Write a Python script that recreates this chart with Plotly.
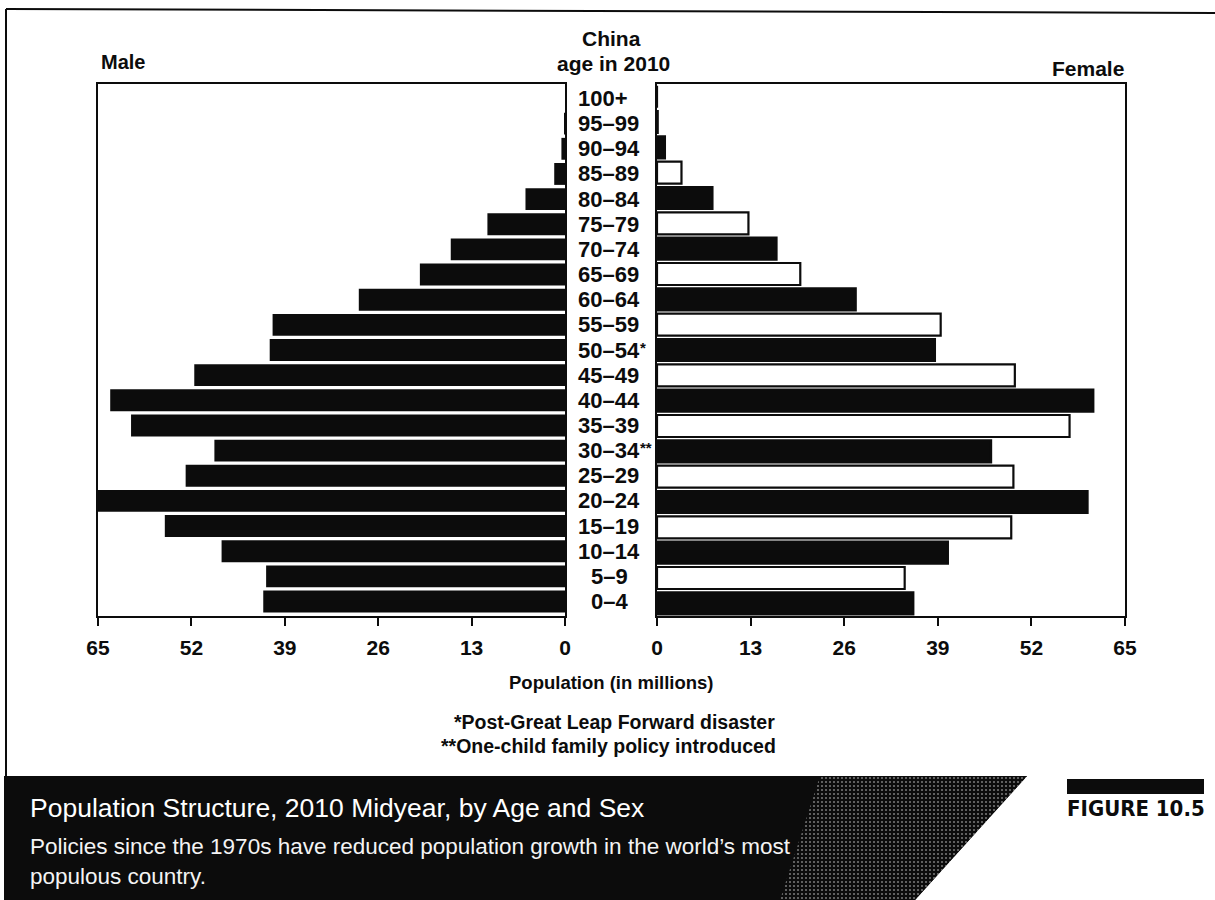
import plotly.graph_objects as go

# ---------------- data ----------------
age_groups = ["0–4", "5–9", "10–14", "15–19", "20–24", "25–29", "30–34**", "35–39",
              "40–44", "45–49", "50–54*", "55–59", "60–64", "65–69", "70–74", "75–79",
              "80–84", "85–89", "90–94", "95–99", "100+"]
male_millions = [42.0, 41.6, 47.8, 55.7, 65.0, 52.8, 48.8, 60.4, 63.3, 51.6, 41.1,
                 40.7, 28.7, 20.2, 15.9, 10.8, 5.5, 1.5, 0.5, 0.1, 0.0]
female_millions = [35.6, 34.4, 40.4, 49.2, 59.8, 49.5, 46.4, 57.3, 60.6, 49.7, 38.6,
                   39.4, 27.6, 19.9, 16.6, 12.7, 7.7, 3.4, 1.1, 0.1, 0.0]
x_ticks = [0, 13, 26, 39, 52, 65]

W, H = 1215, 900
FONT = "Liberation Sans, Arial, Helvetica, sans-serif"
INK = "#0c0c0c"


def px(x):
    return x / W


def py(y):
    return 1 - y / H


n = len(age_groups)
female_fill = ["white" if i % 2 else INK for i in range(n)]
female_shape = ["." if i % 2 else "" for i in range(n)]

fig = go.Figure()
fig.add_trace(go.Bar(
    y=age_groups, x=male_millions, orientation="h", xaxis="x", yaxis="y",
    marker=dict(color=INK, line=dict(width=0)), showlegend=False,
    hovertemplate="Male %{y}: %{x} M<extra></extra>"))
fig.add_trace(go.Bar(
    y=age_groups, x=female_millions, orientation="h", xaxis="x2", yaxis="y2",
    marker=dict(color=female_fill, line=dict(color=INK, width=2.2),
                pattern=dict(shape=female_shape, fgcolor="#a0a0a0", size=6,
                             solidity=0.12, fillmode="replace")),
    showlegend=False, hovertemplate="Female %{y}: %{x} M<extra></extra>"))

# speckled texture in the caption band (decoration)
fig.add_trace(go.Scatter(
    x=[820, 1027, 915, 780, 820], y=[776, 776, 900, 900, 776], xaxis="x3", yaxis="y3",
    mode="none", fill="toself", fillcolor=INK,
    fillpattern=dict(shape=".", fgcolor="#dddddd", bgcolor=INK, size=4, solidity=0.22),
    hoverinfo="skip", showlegend=False))

axis_x = dict(showline=True, linecolor=INK, linewidth=2, mirror=True, showgrid=False,
              zeroline=False, ticks="outside", ticklen=8, tickwidth=2, tickcolor=INK,
              tickvals=x_ticks, ticklabelstandoff=4,
              tickfont=dict(family=FONT, size=21, color=INK, weight="bold"),
              fixedrange=True)
axis_y = dict(showline=True, linecolor=INK, linewidth=2, mirror=True, showgrid=False,
              zeroline=False, showticklabels=False, ticks="",
              categoryorder="array", categoryarray=age_groups, fixedrange=True,
              domain=[py(616), py(84)])

fig.update_layout(
    width=W, height=H, autosize=False,
    margin=dict(l=0, r=0, t=0, b=0, pad=0, autoexpand=False),
    paper_bgcolor="white", plot_bgcolor="rgba(0,0,0,0)",
    bargap=0.13, showlegend=False,
    font=dict(family=FONT, color=INK),
    xaxis=dict(domain=[px(98), px(565)], range=[65, 0], anchor="y", **axis_x),
    xaxis2=dict(domain=[px(657), px(1125)], range=[0, 65], anchor="y2", **axis_x),
    yaxis=dict(anchor="x", **axis_y),
    yaxis2=dict(anchor="x2", **axis_y),
    xaxis3=dict(domain=[0, 1], range=[0, W], visible=False, anchor="y3", fixedrange=True),
    yaxis3=dict(domain=[0, 1], range=[H, 0], visible=False, anchor="x3", fixedrange=True),
)

shapes = [
    # caption band
    dict(type="path", xref="paper", yref="paper", layer="below",
         path=f"M {px(4)},{py(776)} L {px(1027)},{py(776)} L {px(915)},{py(900)} L {px(4)},{py(900)} Z",
         fillcolor=INK, line=dict(width=0)),
    # figure tag bar
    dict(type="rect", xref="paper", yref="paper", x0=px(1067), x1=px(1204),
         y0=py(794), y1=py(779), fillcolor=INK, line=dict(width=0)),
    # outer border lines
    dict(type="line", xref="paper", yref="paper", x0=px(6), x1=1, y0=py(9), y1=py(13),
         line=dict(color=INK, width=2)),
    dict(type="line", xref="paper", yref="paper", x0=px(6), x1=px(6), y0=py(9), y1=py(776),
         line=dict(color=INK, width=2)),
]

ann = []


def txt(text, x, y, size, bold=True, color=INK, xanchor="center", family=FONT):
    ann.append(dict(text=text, x=px(x), y=py(y), xref="paper", yref="paper",
                    xanchor=xanchor, yanchor="middle", showarrow=False,
                    font=dict(family=family, size=size, color=color,
                              weight="bold" if bold else "normal")))


txt("Male", 99, 62, 20, xanchor="left")
txt("China", 612, 38, 21)
txt("age in 2010", 613, 63, 21)
txt("Female", 1126, 68, 21, xanchor="right")
txt("Population (in millions)", 612, 682, 18.5)
txt("*Post-Great Leap Forward disaster", 614, 722, 19.5)
txt("**One-child family policy introduced", 608, 746, 19.5)

txt("Population Structure, 2010 Midyear, by Age and Sex", 28, 808, 26.5, bold=False,
    color="white", xanchor="left")
txt("Policies since the 1970s have reduced population growth in the world’s most",
    28, 846, 22.5, bold=False, color="#f4f4f4", xanchor="left")
txt("populous country.", 28, 876, 22.5, bold=False, color="#f4f4f4", xanchor="left")
txt("FIGURE 10.5", 1135.5, 808, 22, xanchor="center",
    family="Liberation Sans Narrow, DejaVu Sans Condensed, Arial Narrow, sans-serif")

# age labels in the centre column
AGE_SIZE = 22
for lab in age_groups:
    base = lab.rstrip("*")
    stars = lab[len(base):]
    short = len(base) <= 3
    ann.append(dict(text=base, x=px(609 if short else 576), y=lab, xref="paper", yref="y",
                    xanchor="center" if short else "left", yanchor="middle",
                    showarrow=False,
                    font=dict(family=FONT, size=AGE_SIZE, color=INK, weight="bold")))
    if stars:
        ann.append(dict(text=stars, x=px(576 + 2.78 * AGE_SIZE + 1), y=lab, xref="paper",
                        yref="y", xanchor="left", yanchor="middle", yshift=3,
                        showarrow=False,
                        font=dict(family=FONT, size=15, color=INK, weight="bold")))

fig.update_layout(shapes=shapes, annotations=ann)
fig.write_html(
    "out.html",
    config={"responsive": False, "displayModeBar": False},
    post_script="document.body.style.margin='0';document.body.style.overflow='hidden';",
)
